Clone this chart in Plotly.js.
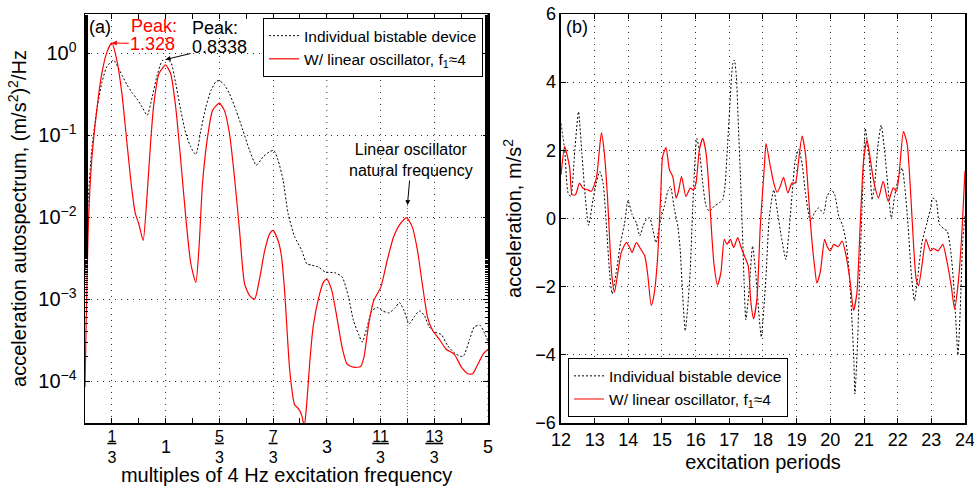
<!DOCTYPE html>
<html>
<head>
<meta charset="utf-8">
<script src="https://cdn.plot.ly/plotly-3.0.1.min.js"></script>
<style>html,body{margin:0;padding:0;background:#fff;}#chart{width:974px;height:486px;}</style>
</head>
<body>
<div id="chart"></div>
<script>
// ---------- Panel (a): acceleration autospectrum ----------
const fBistable = [0,0.042,0.083,0.146,0.208,0.271,0.354,0.396,0.458,0.521,
  0.583,0.646,0.708,0.771,0.833,0.896,0.958,1.0,1.063,1.125,
  1.188,1.25,1.313,1.375,1.438,1.5,1.563,1.625,1.667,1.729,
  1.792,1.875,1.958,2.042,2.125,2.208,2.292,2.342,2.396,2.458,
  2.52,2.60,2.69,2.75,2.81,2.90,2.98,3.10,3.19,3.27,
  3.33,3.40,3.44,3.50,3.56,3.625,3.69,3.77,3.85,3.90,
  3.96,4.02,4.08,4.15,4.21,4.27,4.33,4.42,4.50,4.60,
  4.69,4.77,4.83,4.90,4.96,5.0];
const psdBistable = [0.002,0.0174,0.065,0.20,0.43,0.68,0.82,0.71,0.54,0.41,
  0.33,0.275,0.22,0.174,0.29,0.54,0.81,0.8338,0.78,0.43,
  0.20,0.105,0.071,0.058,0.115,0.22,0.35,0.45,0.46,0.41,
  0.32,0.20,0.115,0.065,0.043,0.054,0.063,0.065,0.049,0.028,
  0.011,0.0058,0.0039,0.0027,0.0026,0.00245,0.00214,0.0021,0.00186,0.00105,
  5.5e-4,3.6e-4,3.0e-4,4.6e-4,7.2e-4,7.9e-4,7.2e-4,6.8e-4,7.9e-4,9.1e-4,
  7.2e-4,5.0e-4,6.0e-4,7.2e-4,6.3e-4,4.6e-4,4.0e-4,3.7e-4,2.7e-4,2.14e-4,
  2.0e-4,3.2e-4,4.6e-4,4.8e-4,3.8e-4,3.0e-4];

const fCoupled = [0,0.042,0.083,0.146,0.208,0.271,0.333,0.396,0.458,0.521,
  0.583,0.625,0.667,0.721,0.771,0.813,0.854,0.917,0.979,1.0,
  1.063,1.125,1.188,1.25,1.313,1.375,1.417,1.458,1.521,1.583,
  1.667,1.729,1.792,1.854,1.917,1.979,2.042,2.104,2.167,2.229,
  2.292,2.333,2.40,2.44,2.48,2.54,2.60,2.65,2.69,2.72,
  2.75,2.79,2.83,2.90,2.96,3.0,3.06,3.125,3.19,3.25,
  3.33,3.42,3.46,3.52,3.58,3.67,3.75,3.83,3.92,3.99,
  4.06,4.125,4.19,4.25,4.31,4.40,4.48,4.58,4.67,4.75,
  4.81,4.875,4.94,5.0];
const psdCoupled = [8.5e-5,8.3e-3,0.049,0.20,0.56,1.02,1.328,0.81,0.32,0.079,
  0.021,0.011,0.0083,0.0052,0.019,0.079,0.24,0.56,0.69,0.72,
  0.56,0.22,0.049,0.01,0.0027,0.0016,0.0047,0.026,0.095,0.20,
  0.245,0.20,0.105,0.031,0.0069,0.00155,0.0011,0.001,0.0018,0.0039,
  0.0063,0.0069,0.005,0.0032,0.00112,1.35e-4,5.2e-5,4.6e-5,3.8e-5,2.8e-5,
  5.2e-5,1.78e-4,4.6e-4,1.05e-3,1.62e-3,1.74e-3,1.29e-3,6.0e-4,2.57e-4,1.62e-4,
  1.48e-4,1.51e-4,1.95e-4,5.0e-4,9.5e-4,1.4e-3,3.0e-3,5.8e-3,8.5e-3,9.8e-3,
  7.6e-3,3.9e-3,1.4e-3,6.0e-4,4.2e-4,3.2e-4,2.45e-4,2.14e-4,1.48e-4,1.23e-4,
  1.23e-4,1.62e-4,2.14e-4,2.45e-4];

// x tick labels of panel (a): fractions drawn as axis labels, whole numbers as centred labels
const fracTickVals = [1/3, 5/3, 7/3, 11/3, 13/3];
const fracTickText = ['<u>1</u><br>3', '<u>5</u><br>3', '<u>7</u><br>3', '<u>11</u><br>3', '<u>13</u><br>3'];
const intTickVals = [1, 3, 5];
const intTickText = ['1', '3', '5'];
const psdTickVals = [1, 0.1, 0.01, 0.001, 0.0001];
const psdTickText = ['10<sup>0</sup>', '10<sup>−1</sup>', '10<sup>−2</sup>', '10<sup>−3</sup>', '10<sup>−4</sup>'];

const peakCoupled = {x: 1/3, y: 1.328, label: '1.328'};
const peakBistable = {x: 1, y: 0.8338, label: '0.8338'};
const naturalFreq = 4;            // linear oscillator natural frequency (multiples)
const naturalMarkTop = 0.014;     // top of the dotted marker line
const naturalMarkBottom = 2e-5;   // bottom of the dotted marker line

// ---------- Panel (b): acceleration time history ----------
const tBistable = [12.0,12.11,12.21,12.29,12.41,12.52,12.62,12.72,12.82,12.95,
  13.05,13.15,13.25,13.35,13.45,13.52,13.64,13.77,13.89,13.99,
  14.11,14.24,14.34,14.44,14.53,14.63,14.73,14.82,14.97,15.07,
  15.17,15.25,15.37,15.47,15.54,15.61,15.69,15.76,15.84,15.91,
  15.98,16.03,16.11,16.21,16.31,16.41,16.55,16.70,16.80,16.87,
  16.95,17.03,17.10,17.15,17.21,17.27,17.33,17.40,17.44,17.49,
  17.59,17.69,17.79,17.89,17.95,18.02,18.09,18.19,18.32,18.42,
  18.54,18.68,18.76,18.86,18.96,19.06,19.16,19.26,19.41,19.53,
  19.65,19.80,19.90,20.03,20.13,20.25,20.37,20.47,20.56,20.64,
  20.70,20.73,20.81,20.87,20.94,20.99,21.04,21.09,21.16,21.24,
  21.32,21.42,21.51,21.61,21.71,21.81,21.91,22.03,22.13,22.21,
  22.31,22.41,22.50,22.60,22.72,22.87,22.97,23.04,23.14,23.24,
  23.37,23.47,23.57,23.66,23.73,23.79,23.86,23.93,24.0];
const accBistable = [2.79,2.0,0.75,0.65,2.0,3.13,1.91,0.65,-0.20,0.55,
  1.04,1.38,1.04,-0.22,-1.68,-2.21,-1.58,-0.71,-0.13,0.53,
  0.12,-0.13,-0.51,-0.22,-0.03,0.02,-0.32,-0.71,0.02,0.36,
  0.80,0.94,0.26,-0.22,-0.90,-2.17,-3.30,-2.65,-1.49,0.26,
  1.72,2.35,2.01,1.04,0.36,0.21,0.36,0.46,0.55,0.94,
  2.2,3.56,4.53,4.65,4.15,2.69,1.23,-0.71,-1.9,-2.97,
  -2.07,-0.81,-1.68,-2.94,-3.48,-2.7,-1.68,0.07,0.84,0.26,
  -0.51,-1.2,-0.51,0.65,1.72,2.03,1.62,0.75,-0.08,0.17,
  0.31,0.15,0.65,0.84,0.70,0.07,-0.22,-0.71,-1.58,-2.94,
  -4.20,-5.15,-3.61,-1.68,0.26,1.72,2.64,2.30,1.72,0.55,
  1.04,2.2,2.74,2.0,0.94,0.02,0.65,1.23,1.48,0.94,
  -0.22,-1.68,-2.41,-1.68,-0.71,-0.13,0.26,0.60,0.53,-0.17,
  -0.30,-0.37,-0.90,-1.87,-3.04,-4.0,-2.65,-0.71,0.07];

const tCoupled = [12.0,12.11,12.26,12.33,12.43,12.55,12.65,12.80,12.90,13.05,
  13.20,13.28,13.38,13.45,13.51,13.59,13.69,13.79,13.94,14.04,
  14.11,14.24,14.37,14.49,14.58,14.68,14.76,14.86,14.96,15.02,
  15.12,15.22,15.32,15.42,15.49,15.58,15.71,15.84,15.93,16.01,
  16.11,16.21,16.31,16.41,16.48,16.55,16.65,16.75,16.85,16.93,
  17.03,17.13,17.25,17.35,17.45,17.56,17.64,17.72,17.82,17.92,
  18.04,18.09,18.22,18.32,18.42,18.51,18.61,18.74,18.86,18.96,
  19.06,19.16,19.26,19.36,19.44,19.53,19.60,19.70,19.83,19.90,
  20.0,20.10,20.23,20.35,20.47,20.59,20.69,20.79,20.89,20.99,
  21.09,21.19,21.28,21.43,21.57,21.72,21.87,21.97,22.17,22.28,
  22.38,22.48,22.55,22.62,22.72,22.84,22.97,23.07,23.20,23.34,
  23.47,23.59,23.69,23.79,23.89,24.0];
const accCoupled = [1.28,2.11,1.48,0.70,0.70,1.04,0.89,0.84,0.80,1.18,
  2.51,2.0,0.65,-0.71,-1.68,-2.16,-1.58,-1.0,-0.71,-0.85,
  -1.0,-0.71,-0.90,-1.10,-1.68,-2.55,-2.26,-1.29,0.65,1.82,
  2.08,1.43,1.23,0.60,0.80,1.23,0.65,0.89,0.84,1.04,
  2.01,2.35,1.91,0.65,-0.51,-1.39,-1.95,-1.58,-0.61,-0.76,
  -0.61,-0.85,-0.56,-0.85,-1.10,-1.39,-2.46,-2.94,-2.36,-0.22,
  1.52,2.2,1.52,1.04,0.77,0.94,1.21,0.75,1.04,1.04,
  1.72,2.42,1.91,0.55,-0.51,-1.39,-1.89,-1.58,-0.61,-0.81,
  -0.95,-0.76,-0.83,-0.66,-1.10,-1.87,-2.70,-2.17,-0.13,1.72,
  2.30,1.72,1.14,0.6,1.09,0.5,0.9,0.8,2.55,2.20,
  0.84,-0.90,-1.78,-1.97,-1.39,-0.61,-0.95,-0.88,-0.95,-0.76,
  -1.29,-1.97,-2.65,-1.97,-0.71,1.4];

const nameBistable = 'Individual bistable device';
const nameCoupled = 'W/ linear oscillator, f<sub>1</sub>≈4';

// ---------- styles ----------
const FONT = 'Liberation Sans, Arial, Helvetica, sans-serif';
const RED = 'rgb(255,0,0)';
const DOT = '2px,2px';
const GRIDCOLOR = '#333';
const GRIDDASH = '1px,5px';
const GRID = {showgrid: true, gridcolor: GRIDCOLOR, griddash: GRIDDASH, gridwidth: 1};
const FRAME = {showline: true, linecolor: 'black', linewidth: 1.5, mirror: 'ticks',
  ticks: 'inside', ticklen: 5, tickwidth: 1, tickcolor: 'black', zeroline: false,
  ticklabeloverflow: 'allow',
  tickfont: {size: 18, family: FONT, color: 'black'}};

const traces = [
  {x: fBistable, y: psdBistable, xaxis: 'x', yaxis: 'y', type: 'scatter', mode: 'lines',
   name: nameBistable, legend: 'legend', line: {color: 'black', width: 1, dash: DOT, shape: 'spline', smoothing: 0.6}},
  {x: fCoupled, y: psdCoupled, xaxis: 'x', yaxis: 'y', type: 'scatter', mode: 'lines',
   name: nameCoupled, legend: 'legend', line: {color: RED, width: 1.2, shape: 'spline', smoothing: 0.6}},
  {x: [naturalFreq, naturalFreq], y: [naturalMarkTop, naturalMarkBottom], xaxis: 'x', yaxis: 'y',
   type: 'scatter', mode: 'lines', showlegend: false, hoverinfo: 'skip',
   line: {color: '#555', width: 1, dash: '1px,2px'}},
  {x: tBistable, y: accBistable, xaxis: 'x2', yaxis: 'y2', type: 'scatter', mode: 'lines',
   name: nameBistable, legend: 'legend2', line: {color: 'black', width: 1, dash: DOT, shape: 'spline', smoothing: 0.6}},
  {x: tCoupled, y: accCoupled, xaxis: 'x2', yaxis: 'y2', type: 'scatter', mode: 'lines',
   name: nameCoupled, legend: 'legend2', line: {color: RED, width: 1.2, shape: 'spline', smoothing: 0.6}}
];

const legendStyle = {bgcolor: 'white', bordercolor: 'black', borderwidth: 1,
  font: {size: 15.5, family: FONT, color: 'black'}, tracegroupgap: 0};

// whole-number labels and grid lines of panel (a)
const intLabels = intTickVals.map((v, i) => ({
  xref: 'x', yref: 'paper', x: v, y: 0, yanchor: 'middle', xanchor: 'center', yshift: -24,
  text: intTickText[i], showarrow: false, font: {size: 18, family: FONT, color: 'black'}
}));
const intGrid = intTickVals.map(v => ({
  type: 'line', xref: 'x', yref: 'paper', x0: v, x1: v, y0: 0, y1: 1, layer: 'below',
  line: {color: GRIDCOLOR, width: 1, dash: GRIDDASH}
}));

const layout = {
  width: 974, height: 486,
  margin: {l: 85, r: 9, t: 14, b: 63},
  paper_bgcolor: 'white', plot_bgcolor: 'white',
  font: {family: FONT, size: 18, color: 'black'},
  showlegend: true,
  xaxis: Object.assign({}, FRAME, GRID, {
    domain: [0, 0.458], anchor: 'y', range: [0, 5],
    tickmode: 'array', tickvals: fracTickVals, ticktext: fracTickText,
    tickfont: {size: 16, family: FONT, color: 'black'}, ticklabelstandoff: -2,
    minor: {dtick: 1/3, tick0: 0, ticks: 'inside', ticklen: 5, tickcolor: 'black', showgrid: false},
    title: {text: 'multiples of 4 Hz excitation frequency', font: {size: 20, family: FONT}, standoff: 6}
  }),
  yaxis: Object.assign({}, FRAME, GRID, {
    domain: [0, 1], anchor: 'x', type: 'log', range: [-4.51, 0.476],
    tickmode: 'array', tickvals: psdTickVals, ticktext: psdTickText,
    tickfont: {size: 20, family: FONT, color: 'black'}, ticklabelstandoff: 3,
    minor: {ticks: 'inside', ticklen: 3, tickcolor: 'black', showgrid: false},
    title: {text: 'acceleration autospectrum, (m/s<sup>2</sup>)<sup>2</sup>/Hz', font: {size: 20, family: FONT}, standoff: 6}
  }),
  xaxis2: Object.assign({}, FRAME, GRID, {
    domain: [0.5409, 1], anchor: 'y2', range: [12, 24], dtick: 1, tick0: 12,
    title: {text: 'excitation periods', font: {size: 20, family: FONT}, standoff: 6}
  }),
  yaxis2: Object.assign({}, FRAME, GRID, {
    domain: [0, 1], anchor: 'x2', range: [-6, 6], dtick: 2, tick0: 0,
    title: {text: 'acceleration, m/s<sup>2</sup>', font: {size: 20, family: FONT}, standoff: 8}
  }),
  legend: Object.assign({}, legendStyle, {x: 0.4523, xanchor: 'right', y: 0.99, yanchor: 'top'}),
  legend2: Object.assign({}, legendStyle, {x: 0.5489, xanchor: 'left', y: 0.014, yanchor: 'bottom'}),
  shapes: intGrid,
  annotations: intLabels.concat([
    {xref: 'paper', yref: 'paper', x: 0.002, y: 0.968, xanchor: 'left', yanchor: 'middle',
     text: '(a)', showarrow: false, font: {size: 18, family: FONT, color: 'black'}},
    {xref: 'paper', yref: 'paper', x: 0.5443, y: 0.968, xanchor: 'left', yanchor: 'middle',
     text: '(b)', showarrow: false, font: {size: 18, family: FONT, color: 'black'}},
    {xref: 'x', yref: 'y', x: peakCoupled.x, y: Math.log10(peakCoupled.y), text: peakCoupled.label,
     showarrow: true, ax: 41, ay: 1, arrowhead: 2, arrowsize: 1, arrowwidth: 1, arrowcolor: RED,
     font: {size: 18, family: FONT, color: RED}},
    {xref: 'x', yref: 'y', x: peakCoupled.x, y: Math.log10(peakCoupled.y), text: 'Peak:',
     showarrow: false, xshift: 42, yshift: 17, font: {size: 18, family: FONT, color: RED}},
    {xref: 'x', yref: 'y', x: peakBistable.x, y: Math.log10(peakBistable.y), text: peakBistable.label,
     showarrow: true, ax: 54, ay: -13, arrowhead: 2, arrowsize: 1, arrowwidth: 1, arrowcolor: 'black',
     font: {size: 18, family: FONT, color: 'black'}},
    {xref: 'x', yref: 'y', x: peakBistable.x, y: Math.log10(peakBistable.y), text: 'Peak:',
     showarrow: false, xshift: 49, yshift: 32, font: {size: 18, family: FONT, color: 'black'}},
    {xref: 'x', yref: 'y', x: naturalFreq, y: Math.log10(naturalMarkTop),
     text: 'Linear oscillator<br>natural frequency', align: 'center',
     showarrow: true, ax: 4, ay: -45, arrowhead: 2, arrowsize: 1, arrowwidth: 1, arrowcolor: 'black',
     font: {size: 16, family: FONT, color: 'black'}}
  ])
};

Plotly.newPlot('chart', traces, layout, {displayModeBar: false, staticPlot: true});
</script>
</body>
</html>
